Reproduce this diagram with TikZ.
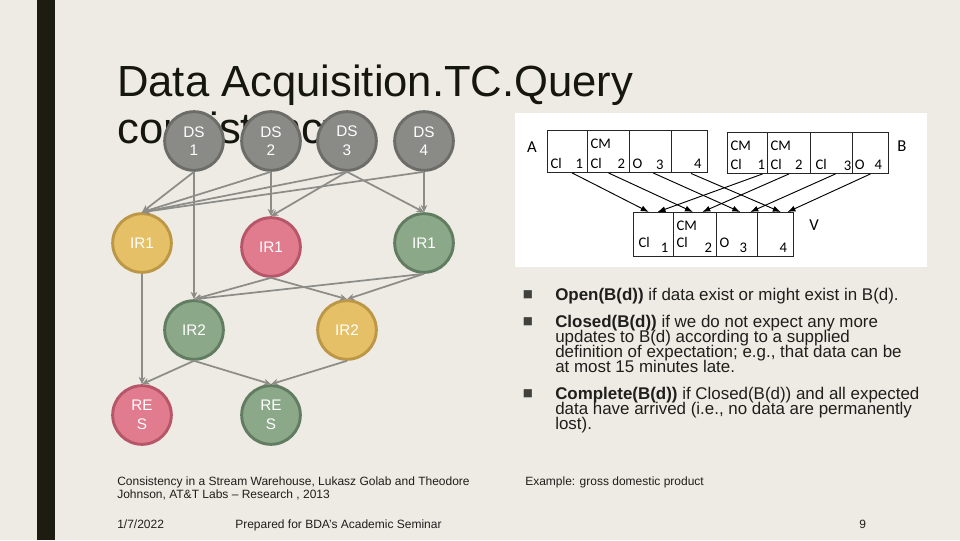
\documentclass[tikz,border=0pt]{standalone}
\usepackage{fontspec}
\setmainfont{Liberation Sans}
\newfontfamily\calib{Carlito}
\newfontfamily\dvs{DejaVu Sans}
\usetikzlibrary{arrows.meta}
\newcommand\tightls{\lineskiplimit -50pt\relax}
\definecolor{bgc}{RGB}{238,235,228}
\definecolor{barc}{RGB}{28,28,16}
\definecolor{titc}{RGB}{22,22,16}
\definecolor{gfill}{RGB}{138,138,134}
\definecolor{gdraw}{RGB}{108,108,104}
\definecolor{yfill}{RGB}{229,192,102}
\definecolor{ydraw}{RGB}{188,152,70}
\definecolor{pfill}{RGB}{224,124,141}
\definecolor{pdraw}{RGB}{182,86,104}
\definecolor{nfill}{RGB}{139,168,137}
\definecolor{ndraw}{RGB}{98,124,98}
\definecolor{ecol}{RGB}{140,140,136}
\definecolor{txtc}{RGB}{30,30,28}
\tikzset{
  circ/.style={circle, minimum size=44pt, inner sep=0pt, line width=2.2pt, text=white,
    font=\fontsize{11.5}{14}\selectfont\tightls, align=center},
  dsn/.style={circ, fill=gfill, draw=gdraw},
  yel/.style={circ, fill=yfill, draw=ydraw},
  pnk/.style={circ, fill=pfill, draw=pdraw},
  grn/.style={circ, fill=nfill, draw=ndraw},
  flow/.style={draw=ecol, line width=1.3pt, -{Stealth[length=5.5pt,width=5pt]}},
  cell/.style={draw=black!85, line width=0.7pt, inner sep=0pt, anchor=north west},
  ctext/.style={font=\calib\fontsize{11}{13}\selectfont, text=black, inner sep=0pt},
  blab/.style={font=\calib\fontsize{12.5}{14}\selectfont, text=black, inner sep=0pt},
  darr/.style={draw=black, line width=0.7pt, -{Latex[length=6pt,width=4.5pt]}},
  btext/.style={font=\fontsize{12.7}{11.25}\selectfont\tightls, text=txtc, inner sep=0pt, align=left},
  bul/.style={font=\dvs\fontsize{8}{8}\selectfont, text=txtc!85, inner sep=0pt},
  foot/.style={font=\fontsize{9}{9.75}\selectfont\tightls, text=txtc, inner sep=0pt, align=left}
}
\begin{document}
\begin{tikzpicture}[x=0.75pt,y=-0.75pt]
\useasboundingbox (0,0) rectangle (960,540);
\fill[bgc] (0,0) rectangle (960,540);
\fill[barc] (37,0) rectangle (55,540);

% title
\node[anchor=base west, inner sep=0pt, text=titc, font=\fontsize{32.7}{36}\selectfont] (title1) at (117,96) {Data Acquisition.TC.Query};
\node[anchor=base west, inner sep=0pt, text=titc, font=\fontsize{32.7}{36}\selectfont] (title2) at (117,143) {consistency};

% graph nodes
\node[dsn] (ds1) at (194,141) {DS\\1};
\node[dsn] (ds2) at (271,141) {DS\\2};
\node[dsn] (ds3) at (347,141) {DS\\3};
\node[dsn] (ds4) at (424,141) {DS\\4};
\node[yel] (ira) at (142,243) {IR1};
\node[pnk] (irb) at (271,247) {IR1};
\node[grn] (irc) at (424,243) {IR1};
\node[grn] (ir2a) at (194,330) {IR2};
\node[yel] (ir2b) at (347,330) {IR2};
\node[pnk] (resa) at (142,415) {RE\\S};
\node[grn] (resb) at (271,415) {RE\\S};

% edges
\draw[flow] (ds1.south) -- (ira.north);
\draw[flow] (ds1.south) -- (ir2a.north);
\draw[flow] (ds2.south) -- (ira.north);
\draw[flow] (ds2.south) -- (irb.north);
\draw[flow] (ds3.south) -- (ira.north);
\draw[flow] (ds3.south) -- (irb.north);
\draw[flow] (ds3.south) -- (irc.north);
\draw[flow] (ds4.south) -- (ira.north);
\draw[flow] (ds4.south) -- (irc.north);
\draw[flow] (ira.south) -- (resa.north);
\draw[flow] (irb.south) -- (ir2a.north);
\draw[flow] (irb.south) -- (ir2b.north);
\draw[flow] (irc.south) -- (ir2a.north);
\draw[flow] (irc.south) -- (ir2b.north);
\draw[flow] (ir2a.south) -- (resa.north);
\draw[flow] (ir2a.south) -- (resb.north);
\draw[flow] (ir2b.south) -- (resb.north);

% right figure
\fill[white] (515,113) rectangle (927,267);
\node[blab] (labA) at (532,147) {A};
\node[blab] (labB) at (902,146) {B};
\node[blab] (labV) at (814,225) {V};

\node[cell, minimum width=30pt, minimum height=31.5pt] (a1) at (547,130) {};
\node[cell, minimum width=31.5pt, minimum height=31.5pt] (a2) at (587,130) {};
\node[cell, minimum width=31.5pt, minimum height=31.5pt] (a3) at (629,130) {};
\node[cell, minimum width=27pt, minimum height=31.5pt, line width=1.1pt] (a4) at (671,130) {};

\node[cell, minimum width=30pt, minimum height=30.75pt] (b1) at (727,132) {};
\node[cell, minimum width=32.25pt, minimum height=30.75pt] (b2) at (767,132) {};
\node[cell, minimum width=31.5pt, minimum height=30.75pt] (b3) at (810,132) {};
\node[cell, minimum width=27pt, minimum height=30.75pt] (b4) at (852,132) {};

\node[cell, minimum width=30pt, minimum height=33pt] (v1) at (633,212) {};
\node[cell, minimum width=32.25pt, minimum height=33pt] (v2) at (673,212) {};
\node[cell, minimum width=30.75pt, minimum height=33pt] (v3) at (716,212) {};
\node[cell, minimum width=27pt, minimum height=33pt] (v4) at (757,212) {};

% cell texts A
\node[ctext, anchor=base west] (a1t) at ([shift={(2.5pt,3.5pt)}]a1.south west) {Cl};
\node[ctext, anchor=base east] (a1n) at ([shift={(-3.5pt,3.5pt)}]a1.south east) {1};
\node[ctext, anchor=base west] (a2c) at ([shift={(2.5pt,-14pt)}]a2.north west) {CM};
\node[ctext, anchor=base west] (a2t) at ([shift={(2.5pt,3.5pt)}]a2.south west) {Cl};
\node[ctext, anchor=base east] (a2n) at ([shift={(-3.5pt,3pt)}]a2.south east) {2};
\node[ctext, anchor=base west] (a3t) at ([shift={(2.5pt,3.5pt)}]a3.south west) {O};
\node[ctext, anchor=base east] (a3n) at ([shift={(-6pt,2.5pt)}]a3.south east) {3};
\node[ctext, anchor=base east] (a4n) at ([shift={(-5pt,3.5pt)}]a4.south east) {4};
% cell texts B
\node[ctext, anchor=base west] (b1c) at ([shift={(2.5pt,-14pt)}]b1.north west) {CM};
\node[ctext, anchor=base west] (b1t) at ([shift={(2.5pt,3.5pt)}]b1.south west) {Cl};
\node[ctext, anchor=base east] (b1n) at ([shift={(-2pt,3pt)}]b1.south east) {1};
\node[ctext, anchor=base west] (b2c) at ([shift={(2.5pt,-14pt)}]b2.north west) {CM};
\node[ctext, anchor=base west] (b2t) at ([shift={(2.5pt,3.5pt)}]b2.south west) {Cl};
\node[ctext, anchor=base east] (b2n) at ([shift={(-6pt,3.5pt)}]b2.south east) {2};
\node[ctext, anchor=base west] (b3t) at ([shift={(4pt,3.5pt)}]b3.south west) {Cl};
\node[ctext, anchor=base east] (b3n) at ([shift={(-1pt,2.5pt)}]b3.south east) {3};
\node[ctext, anchor=base west] (b4t) at ([shift={(2pt,3.5pt)}]b4.south west) {O};
\node[ctext, anchor=base east] (b4n) at ([shift={(-5pt,3.5pt)}]b4.south east) {4};
% cell texts V
\node[ctext, anchor=base west] (v1t) at ([shift={(4pt,7pt)}]v1.south west) {Cl};
\node[ctext, anchor=base east] (v1n) at ([shift={(-4pt,3.5pt)}]v1.south east) {1};
\node[ctext, anchor=base west] (v2c) at ([shift={(2.5pt,-14pt)}]v2.north west) {CM};
\node[ctext, anchor=base west] (v2t) at ([shift={(2.5pt,7pt)}]v2.south west) {Cl};
\node[ctext, anchor=base east] (v2n) at ([shift={(-3.5pt,3.5pt)}]v2.south east) {2};
\node[ctext, anchor=base west] (v3t) at ([shift={(2.5pt,7pt)}]v3.south west) {O};
\node[ctext, anchor=base east] (v3n) at ([shift={(-8pt,3.5pt)}]v3.south east) {3};
\node[ctext, anchor=base east] (v4n) at ([shift={(-5pt,3.5pt)}]v4.south east) {4};

% arrows of the figure
\draw[darr] ([xshift=3.5pt]a1.south) -- ([xshift=-3.5pt]v1.north);
\draw[darr] (a2.south) -- ([xshift=-1.5pt]v2.north);
\draw[darr] ([xshift=2pt]a3.south) -- ([xshift=2.5pt]v3.north);
\draw[darr] ([xshift=1pt]a4.south) -- ([xshift=4pt]v4.north);
\draw[darr] ([xshift=-4pt]b1.east |- b1.south) -- ([xshift=3pt]v1.north);
\draw[darr] (b2.south) -- ([xshift=5.5pt]v2.north);
\draw[darr] ([xshift=3pt]b3.south) -- ([xshift=10pt]v3.north);
\draw[darr] (b4.south) -- ([xshift=9pt]v4.north);

% bullets
\node[bul] (bu1) at (528,295) {■};
\node[bul] (bu2) at (528,322) {■};
\node[bul] (bu3) at (528,394) {■};
\node[btext, anchor=base west] (op) at (555,300) {\textbf{Open(B(d))} if data exist or might exist in B(d).};
\node[btext, anchor=base west] (cl) at (555,372) {\textbf{Closed(B(d))} if we do not expect any more\\updates to B(d) according to a supplied\\definition of expectation; e.g., that data can be\\at most 15 minutes late.};
\node[btext, anchor=base west] (co) at (555,429) {\textbf{Complete(B(d))} if Closed(B(d)) and all expected\\data have arrived (i.e., no data are permanently\\lost).};

% footer
\node[foot, anchor=base west] (ref) at (117,498) {Consistency in a Stream Warehouse, Lukasz Golab and Theodore\\Johnson, AT\&T Labs -- Research , 2013};
\node[foot, anchor=base west] (ex) at (525,485) {Example: gross domestic product};
\node[foot, anchor=base west] (date) at (117,528) {1/7/2022};
\node[foot, anchor=base west] (prep) at (235,528) {Prepared for BDA's Academic Seminar};
\node[foot, anchor=base west] (pg) at (859,528) {9};
\end{tikzpicture}
\end{document}
